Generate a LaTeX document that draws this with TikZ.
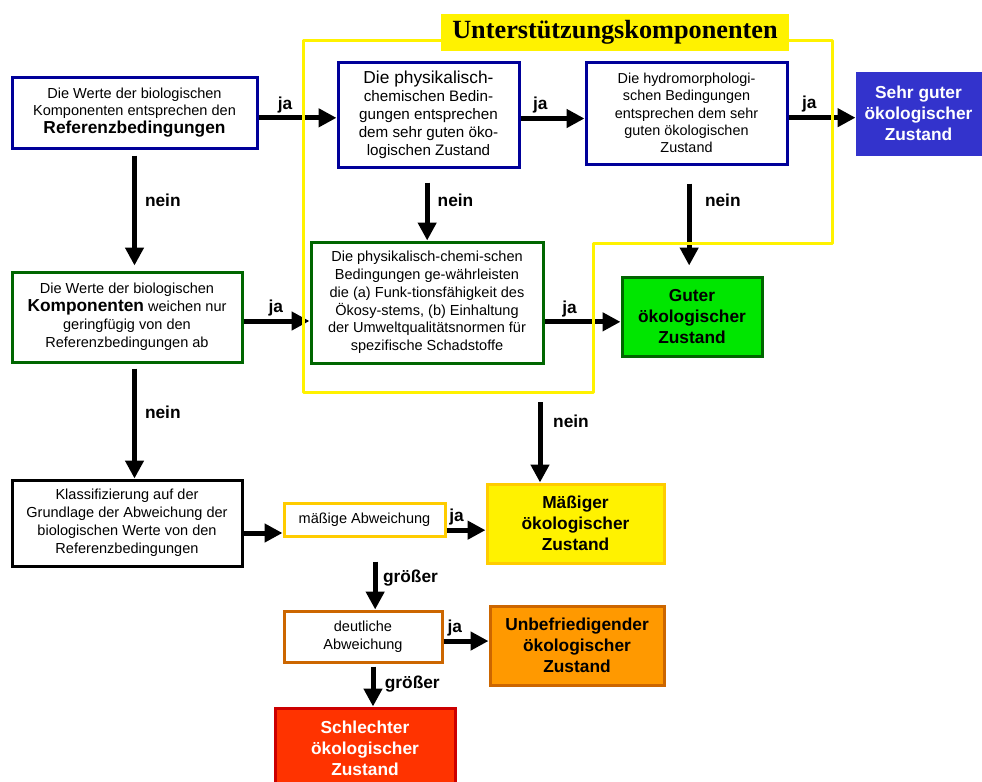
\documentclass[tikz,border=0pt]{standalone}
\usepackage{fontspec}
\setmainfont{Liberation Sans}
\newfontfamily\titlefont{Liberation Serif}
\usetikzlibrary{arrows.meta}
\definecolor{navy}{RGB}{0,0,153}
\definecolor{dkgreen}{RGB}{0,102,0}
\definecolor{brightgreen}{RGB}{0,230,0}
\definecolor{royal}{RGB}{51,51,204}
\definecolor{gold}{RGB}{255,204,0}
\definecolor{rust}{RGB}{204,102,0}
\definecolor{amber}{RGB}{255,153,0}
\definecolor{scarlet}{RGB}{255,51,0}
\definecolor{darkred}{RGB}{204,0,0}
\newcommand{\flowtext}{\fontsize{10.9}{13.4}\selectfont}
\newcommand{\flowbold}{\fontsize{13}{15.75}\selectfont\bfseries}

\begin{document}
\begin{tikzpicture}[x=0.75pt, y=-0.75pt,
	box/.style={draw, line width=2.25pt, align=center, inner sep=1pt, font=\flowtext},
	statebox/.style={box, font=\flowbold},
	arr/.style={line width=3.75pt, -{Triangle[length=13.5pt,width=13.5pt]}},
	lab/.style={font=\flowbold, inner sep=2pt}]
			%%%%% START %%%%%
			
			\useasboundingbox (0,0) rectangle (982,782);
			\clip (0,0) rectangle (982,782);
			
			% linke Spalte
			\node[box, draw=navy, minimum width=183.75pt, minimum height=53.25pt] (ref) at (134.5,112.5)
				{Die Werte der biologischen\\Komponenten entsprechen den\\{\flowbold Referenzbedingungen}};
			\node[box, draw=dkgreen, minimum width=172.5pt, minimum height=67.5pt] (geringe) at (127,317)
				{Die Werte der biologischen\\{\flowbold Komponenten} weichen nur\\geringfügig von den\\Referenzbedingungen ab};
			\node[box, draw=black, minimum width=172.5pt, minimum height=64.5pt] (klass) at (127,523)
				{Klassifizierung auf der\\Grundlage der Abweichung der\\biologischen Werte von den\\Referenzbedingungen};
			
			% Unterstuetzungskomponenten
			\node[box, draw=navy, minimum width=135.75pt, minimum height=78.75pt, font=\fontsize{11.4}{13.5}\selectfont] (phys) at (428.5,114.5)
				{{\fontsize{13}{14}\selectfont Die physikalisch-}\\chemischen Bedin-\\gungen entsprechen\\dem sehr guten öko-\\logischen Zustand};
			\node[box, draw=navy, minimum width=150.75pt, minimum height=76.5pt, font=\fontsize{10.8}{12.9}\selectfont] (hydro) at (686.5,113)
				{Die hydromorphologi-\\schen Bedingungen\\entsprechen dem sehr\\guten ökologischen\\Zustand};
			\node[box, draw=dkgreen, minimum width=174pt, minimum height=90.75pt, font=\fontsize{10.9}{13.3}\selectfont] (pcond) at (427,302.5)
				{Die physikalisch-chemi-schen\\Bedingungen ge-währleisten\\die (a) Funk-tionsfähigkeit des\\Ökosy-stems, (b) Einhaltung\\der Umweltqualitätsnormen für\\spezifische Schadstoffe};
			
			% Abweichungen
			\node[box, draw=gold, minimum width=120.75pt, minimum height=24.75pt] (maessig) at (364.5,519.5) {mäßige Abweichung};
			\node[box, draw=rust, minimum width=118.5pt, minimum height=38.25pt] (deutlich) at (363,636.5) {deutliche\\Abweichung};
			
			% Zustaende
			\node[statebox, draw=royal, fill=royal, text=white, minimum width=92.25pt, minimum height=60.75pt] (sehr) at (918.5,113.5) {Sehr guter\\ökologischer\\Zustand};
			\node[statebox, draw=dkgreen, fill=brightgreen, minimum width=105pt, minimum height=59.25pt] (gut) at (692,316.5) {Guter\\ökologischer\\Zustand};
			\node[statebox, draw=gold, fill=yellow, minimum width=132.75pt, minimum height=59.25pt] (moderate) at (575.5,523.5) {Mäßiger\\ökologischer\\Zustand};
			\node[statebox, draw=rust, fill=amber, minimum width=130.5pt, minimum height=59.25pt] (unbefr) at (577,645.5) {Unbefriedigender\\ökologischer\\Zustand};
			\node[statebox, draw=darkred, fill=scarlet, text=white, minimum width=135pt, minimum height=60pt] (schlecht) at (365,748) {Schlechter\\ökologischer\\Zustand};
			
			% Pfeile ja
			\draw[arr] ([yshift=-4pt]ref.east) -- node[lab, above, pos=0.34] {ja} ([yshift=-4pt]ref.east -| phys.west);
			\draw[arr] ([yshift=-3pt]phys.east) -- node[lab, above, pos=0.31] {ja} ([yshift=-3pt]phys.east -| hydro.west);
			\draw[arr] ([yshift=-3.5pt]hydro.east) -- node[lab, above, pos=0.31] {ja} ([yshift=-3.5pt]hydro.east -| sehr.west);
			\draw[arr] ([yshift=-3pt]geringe.east) -- node[lab, above, pos=0.49] {ja} ([yshift=-3pt]geringe.east -| pcond.west);
			\draw[arr] ([yshift=-4pt]gut.west -| pcond.east) -- node[lab, above, pos=0.33] {ja} ([yshift=-4pt]gut.west);
			\draw[arr] ([yshift=-8pt]maessig.east) -- node[lab, above, pos=0.26] {ja} ([yshift=-8pt]maessig.east -| moderate.west);
			\draw[arr] ([yshift=-3.4pt]deutlich.east) -- node[lab, above, pos=0.25] {ja} ([yshift=-3.4pt]deutlich.east -| unbefr.west);
			\draw[arr] ([yshift=-7.5pt]klass.east) -- ([yshift=-7.5pt]klass.east -| maessig.west);
			
			% Pfeile nein
			\draw[arr, shorten <=4.5pt, shorten >=3.75pt] (ref.south) -- node[lab, right, pos=0.42, xshift=4pt] {nein} (ref.south |- geringe.north);
			\draw[arr, shorten <=10.5pt] ([xshift=-1pt]phys.south) -- node[lab, right, pos=0.44, xshift=4pt] {nein} ([xshift=-1pt]phys.south |- pcond.north);
			\draw[arr, shorten <=13.5pt, shorten >=7.5pt] ([xshift=2pt]hydro.south) -- node[lab, right, pos=0.32, xshift=8pt] {nein} ([xshift=2pt]hydro.south |- gut.north);
			\draw[arr, shorten <=3.75pt] (geringe.south -| ref) -- node[lab, right, pos=0.42, xshift=4pt] {nein} (klass.north -| ref);
			\coordinate (rahmen) at (540,392);
			\draw[arr, shorten <=7.5pt] (rahmen) -- node[lab, right, pos=0.32, xshift=6pt] {nein} (rahmen |- moderate.north);
			
			% Pfeile groesser
			\draw[arr, shorten <=18pt] ([xshift=8pt]maessig.south) -- node[lab, right, pos=0.56, xshift=2pt] {größer} ([xshift=8pt]maessig.south |- deutlich.north);
			\draw[arr, shorten <=2.25pt] ([xshift=7.5pt]deutlich.south) -- node[lab, right, pos=0.48, xshift=5pt] {größer} ([xshift=7.5pt]deutlich.south |- schlecht.north);
			
			% gelber Rahmen
			\draw[yellow, line width=2.25pt, line join=round] (303,40) -- (832,40) -- (832,243) -- (593,243) -- (593,392) -- (303,392) -- cycle;
			\node[fill=yellow, minimum width=261pt, minimum height=27.75pt, font=\titlefont\fontsize{19.7}{22}\selectfont\bfseries] (titel) at (615,32.5) {Unterstützungskomponenten};
			
			%%%%% END %%%%%
\end{tikzpicture}
\end{document}
